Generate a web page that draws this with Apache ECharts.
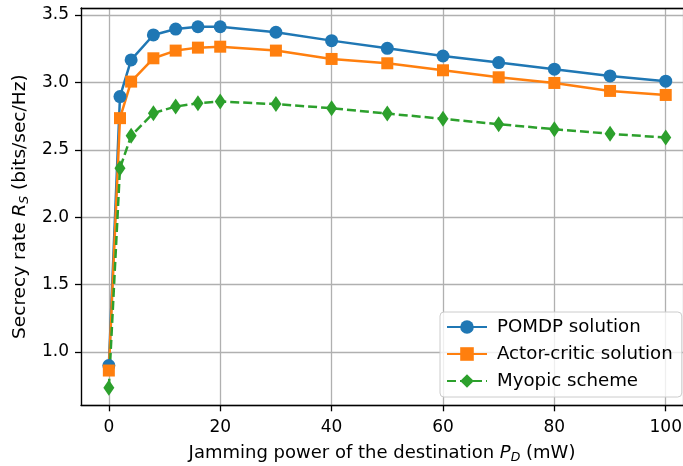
<!DOCTYPE html>
<html><head><meta charset="utf-8">
<script src="https://cdn.jsdelivr.net/npm/echarts@6/dist/echarts.min.js"></script>
<style>html,body{margin:0;padding:0;background:#fff}#c{width:683px;height:466px}</style>
</head><body><div id="c"></div>
<script>
const xValues = [0, 2, 4, 8, 12, 16, 20, 30, 40, 50, 60, 70, 80, 90, 100];
const pomdp = [0.90, 2.895, 3.167, 3.352, 3.396, 3.413, 3.413, 3.372, 3.31, 3.253, 3.196, 3.147, 3.098, 3.048, 3.009];
const actorCritic = [0.863, 2.735, 3.006, 3.179, 3.236, 3.258, 3.265, 3.236, 3.174, 3.142, 3.09, 3.038, 2.996, 2.937, 2.907];
const myopic = [0.735, 2.364, 2.604, 2.772, 2.821, 2.846, 2.858, 2.839, 2.809, 2.769, 2.73, 2.69, 2.653, 2.619, 2.591];
const seriesNames = ['POMDP solution', 'Actor-critic solution', 'Myopic scheme'];

const font = 'DejaVu Sans';
const pair = arr => xValues.map((x, i) => [x, arr[i]]);
const chart = echarts.init(document.getElementById('c'), null, {renderer: 'canvas'});
const xMin = -5, xMax = 103.1;
chart.setOption({
  animation: false,
  backgroundColor: '#fff',
  textStyle: {fontFamily: font},
  grid: {left: 81, top: 8, right: 0, bottom: 60.7, outerBoundsMode: 'none', containLabel: false, show: false},
  xAxis: [{
    type: 'value', min: xMin, max: xMax,
    axisLine: {show: true, onZero: false, lineStyle: {color: '#000', width: 1.3}},
    axisTick: {show: true, length: 6, lineStyle: {color: '#000', width: 1.3}},
    axisLabel: {showMinLabel: false, showMaxLabel: false, fontSize: 17, color: '#000', margin: 14, fontFamily: font},
    splitLine: {show: true, lineStyle: {color: '#b0b0b0', width: 1.3}},
    name: 'Jamming power of the destination {i|P}{sub|D} (mW)',
    nameLocation: 'middle', nameGap: 38,
    nameTextStyle: {fontSize: 18, color: '#000', fontFamily: font,
      rich: {i: {fontStyle: 'italic', fontSize: 18, fontFamily: font},
             sub: {fontStyle: 'italic', fontSize: 12.5, fontFamily: font, padding: [8, 0, 0, 0]}}}
  }, {
    type: 'value', min: xMin, max: xMax, position: 'top',
    axisLine: {show: true, onZero: false, lineStyle: {color: '#000', width: 1.3}},
    axisTick: {show: false}, axisLabel: {show: false}, splitLine: {show: false}
  }],
  yAxis: {
    type: 'value', min: 0.605, max: 3.552,
    axisLine: {show: true, onZero: false, lineStyle: {color: '#000', width: 1.3}},
    axisTick: {show: true, length: 6, lineStyle: {color: '#000', width: 1.3}},
    axisLabel: {showMinLabel: false, showMaxLabel: false, fontSize: 17, color: '#000', margin: 12, fontFamily: font,
      formatter: v => v.toFixed(1)},
    splitLine: {show: true, lineStyle: {color: '#b0b0b0', width: 1.3}},
    name: 'Secrecy rate {i|R}{sub|S} (bits/sec/Hz)',
    nameLocation: 'middle', nameGap: 50, nameRotate: 90,
    nameTextStyle: {fontSize: 18.5, color: '#000', fontFamily: font,
      rich: {i: {fontStyle: 'italic', fontSize: 18.5, fontFamily: font},
             sub: {fontStyle: 'italic', fontSize: 12.5, fontFamily: font, padding: [8, 0, 0, 0]}}}
  },
  legend: {
    show: true, orient: 'vertical', left: 440, top: 312,
    padding: [5, 9, 6, 6], itemGap: 7, itemWidth: 40, itemHeight: 17,
    borderColor: '#cccccc', borderWidth: 1, borderRadius: 4, backgroundColor: 'rgba(255,255,255,0.8)',
    textStyle: {fontSize: 18.2, color: '#000', fontFamily: font, lineHeight: 20, padding: [0, 0, 0, 5]},
    data: seriesNames
  },
  series: [
    {name: seriesNames[0], type: 'line', data: pair(pomdp), symbol: 'circle', symbolSize: 13,
     lineStyle: {color: '#1f77b4', width: 2.5}, itemStyle: {color: '#1f77b4'}},
    {name: seriesNames[1], type: 'line', data: pair(actorCritic), symbol: 'rect', symbolSize: 12,
     lineStyle: {color: '#ff7f0e', width: 2.5}, itemStyle: {color: '#ff7f0e'}},
    {name: seriesNames[2], type: 'line', data: pair(myopic), symbol: 'diamond', symbolSize: [11, 16],
     lineStyle: {color: '#2ca02c', width: 2.5, type: [9, 4]}, itemStyle: {color: '#2ca02c'}}
  ]
});
</script></body></html>
